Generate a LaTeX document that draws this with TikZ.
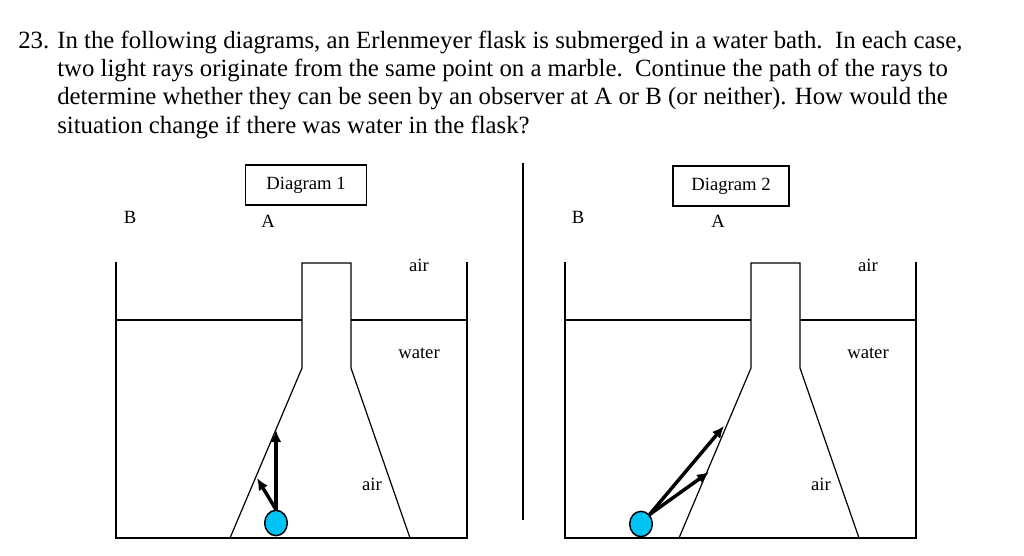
\documentclass[tikz,border=0pt]{standalone}
\usepackage{fontspec}
\usetikzlibrary{shapes.geometric,arrows.meta}
\setmainfont{Liberation Serif}
\definecolor{marb}{HTML}{00C3F5}
\begin{document}
\begin{tikzpicture}[x=0.75pt,y=-0.75pt,
  ln/.style={line width=0.9pt},
  ray/.style={line width=2.6pt,-{Latex[length=9pt,width=8pt]}},
  marble/.style={draw,line width=1.1pt,fill=marb,ellipse,minimum width=17pt,minimum height=19pt,inner sep=0},
  lab/.style={font=\fontsize{14}{16}\selectfont},
  tl/.style={anchor=base west,font=\fontsize{18.6}{21}\selectfont,inner sep=0}]
\useasboundingbox (0,0) rectangle (1024,556);
\node[tl] (n) at (18,49) {23.};
\node[tl] (l1) at (57,49) {In the following diagrams, an Erlenmeyer flask is submerged in a water bath.\ \ In each case,};
\node[tl] (l2) at (57,77) {two light rays originate from the same point on a marble.\ \ Continue the path of the rays to};
\node[tl] (l3) at (57,105) {determine whether they can be seen by an observer at A or B (or neither). How would the};
\node[tl] (l4) at (57,134) {situation change if there was water in the flask?};
\draw[ln] (523,163) -- (523,520);
\foreach \o/\n in {0/1,449/2}{
\begin{scope}[xshift=\o*0.75pt]
\draw[ln] (116,262) -- (116,538) -- (467,538) -- (467,262);
\draw[ln] (116,320) -- (302,320);
\draw[ln] (351,320) -- (467,320);
\draw[ln] (230,538) -- (302,368) -- (302,263) -- (351,263) -- (351,368) -- (410,538);
\node[lab] (air1\n) at (419,265) {air};
\node[lab] (wat\n) at (419,353) {water};
\node[lab] (air2\n) at (372,484) {air};
\end{scope}}
\node[lab,draw,line width=0.9pt,minimum width=91pt,minimum height=30pt] (d1) at (306,185) {Diagram 1};
\node[lab,draw,line width=0.9pt,minimum width=87pt,minimum height=30pt] (d2) at (731,186) {Diagram 2};
\node[lab] (b1) at (130,217) {B};
\node[lab] (a1) at (268,221) {A};
\node[lab] (b2) at (578,217) {B};
\node[lab] (a2) at (718,221) {A};
\coordinate (e1) at (276,430);
\coordinate (e2) at (257,478);
\coordinate (f1) at (724,426);
\coordinate (f2) at (709,472);
\node[marble] (m1) at (276,523) {};
\node[marble] (m2) at (641,524) {};
\draw[ray] (m1.north) -- (e1);
\draw[ray] (m1.north) -- (e2);
\draw[ray] (m2.north east) -- (f1);
\draw[ray] (m2.north east) -- (f2);
\end{tikzpicture}
\end{document}
